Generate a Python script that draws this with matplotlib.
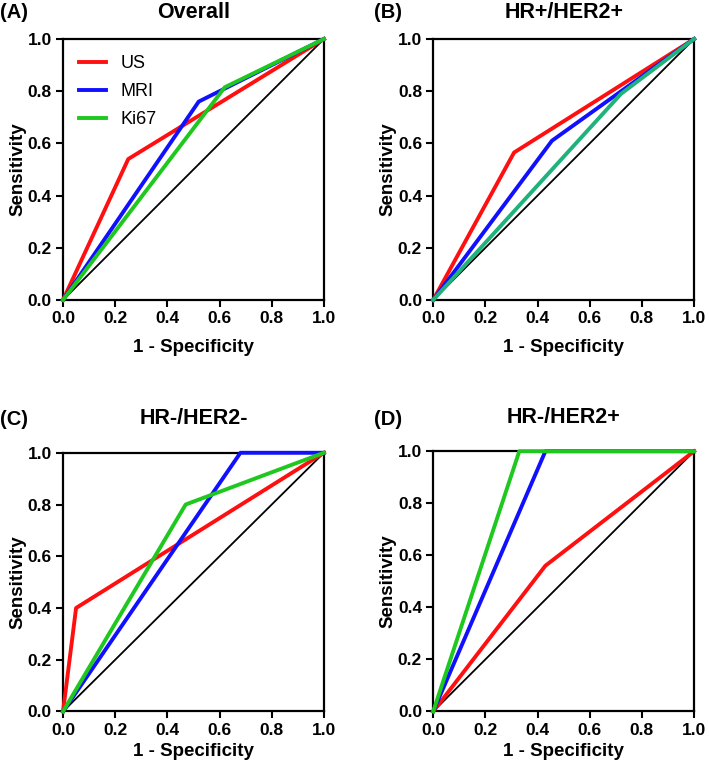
import matplotlib.pyplot as plt

plt.rcParams['font.family'] = ['Liberation Sans', 'DejaVu Sans']

# ROC points (1 - specificity, sensitivity)
panels = ['(A)', '(B)', '(C)', '(D)']
titles = ['Overall', 'HR+/HER2+', 'HR-/HER2-', 'HR-/HER2+']

us_fpr = [[0, 0.25, 1], [0, 0.31, 1], [0, 0.05, 1], [0, 0.43, 1]]
us_tpr = [[0, 0.54, 1], [0, 0.565, 1], [0, 0.40, 1], [0, 0.56, 1]]
mri_fpr = [[0, 0.52, 1], [0, 0.455, 1], [0, 0.68, 1], [0, 0.43, 1]]
mri_tpr = [[0, 0.76, 1], [0, 0.61, 1], [0, 1.0, 1], [0, 1.0, 1]]
ki_fpr = [[0, 0.62, 1], [0, 0.72, 1], [0, 0.47, 1], [0, 0.33, 1]]
ki_tpr = [[0, 0.815, 1], [0, 0.79, 1], [0, 0.80, 1], [0, 1.0, 1]]
ki_colors = ['#1ec81e', '#1fb27a', '#1ec81e', '#1ec81e']

# axes boxes [left, bottom, width, height] in figure fraction
boxes = [[0.0889, 0.6104, 0.368, 0.339],
         [0.611, 0.6104, 0.368, 0.339],
         [0.0889, 0.0760, 0.368, 0.336],
         [0.611, 0.0760, 0.368, 0.338]]
title_pads = [15, 15, 21, 20]
xlabel_pads = [9, 9, 4, 4]
label_pos = [(0.0, 0.984), (0.527, 0.984), (0.0, 0.455), (0.527, 0.455)]

fig = plt.figure(figsize=(7.09, 7.70), dpi=100)

for i in range(4):
    ax = fig.add_axes(boxes[i])
    ax.plot([0, 1], [0, 1], color='black', lw=1.3, zorder=1)
    ax.plot(us_fpr[i], us_tpr[i], color='#ff1010', lw=2.8, label='US',
            zorder=3, clip_on=False)
    ax.plot(mri_fpr[i], mri_tpr[i], color='#1010ff', lw=2.8, label='MRI',
            zorder=4, clip_on=False)
    ax.plot(ki_fpr[i], ki_tpr[i], color=ki_colors[i], lw=2.8, label='Ki67',
            zorder=5, clip_on=False)
    ax.set_xlim(0, 1)
    ax.set_ylim(0, 1)
    ax.set_xticks([0, 0.2, 0.4, 0.6, 0.8, 1.0])
    ax.set_yticks([0, 0.2, 0.4, 0.6, 0.8, 1.0])
    ax.set_xticklabels(['0.0', '0.2', '0.4', '0.6', '0.8', '1.0'], fontweight='bold')
    ax.set_yticklabels(['0.0', '0.2', '0.4', '0.6', '0.8', '1.0'], fontweight='bold')
    ax.tick_params(labelsize=12.5, width=1.5, length=5, direction='out', pad=3)
    for sp in ax.spines.values():
        sp.set_linewidth(1.6)
    ax.set_xlabel('1 - Specificity', fontsize=13.5, fontweight='bold',
                  labelpad=xlabel_pads[i])
    ax.set_ylabel('Sensitivity', fontsize=13.5, fontweight='bold', labelpad=1)
    ax.set_title(titles[i], fontsize=15.5, fontweight='bold', pad=title_pads[i])
    fig.text(label_pos[i][0], label_pos[i][1], panels[i], fontsize=14.5,
             fontweight='bold', ha='left', va='center')
    if i == 0:
        ax.legend(loc='upper left', frameon=False, fontsize=13,
                  handlelength=1.5, labelspacing=0.6, handletextpad=0.8,
                  borderaxespad=0.5)

fig.savefig('out.png', dpi=100)
